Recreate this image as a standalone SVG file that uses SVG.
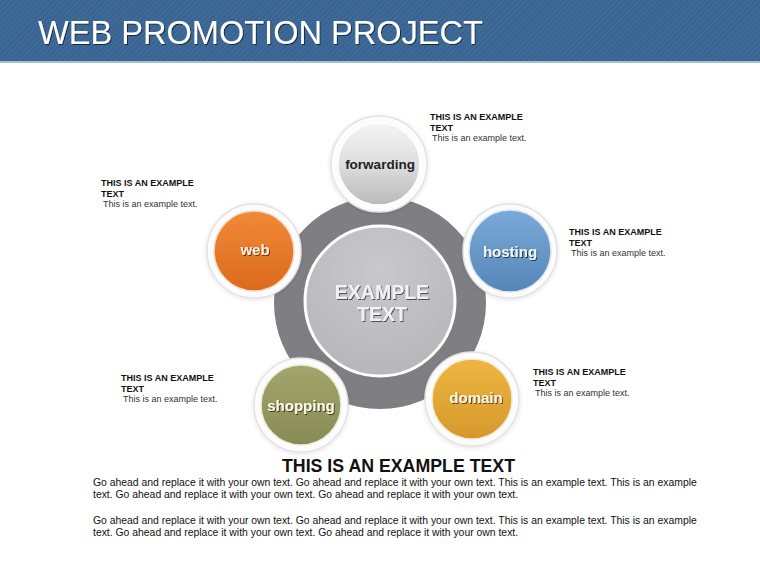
<svg xmlns="http://www.w3.org/2000/svg" width="760" height="570" viewBox="0 0 760 570">
<defs>
<pattern id="stripes" width="4" height="4" patternUnits="userSpaceOnUse" patternTransform="rotate(45)">
<rect width="4" height="4" fill="#3a6592"/>
<rect width="1" height="4" fill="#436e9b"/>
</pattern>
<radialGradient id="gInner" cx="0.5" cy="0.3" r="0.7">
<stop offset="0" stop-color="#c9c8cd"/>
<stop offset="1" stop-color="#b7b6bb"/>
</radialGradient>
<linearGradient id="gFwd" x1="0" y1="0" x2="0" y2="1">
<stop offset="0" stop-color="#f4f4f4"/>
<stop offset="0.5" stop-color="#dedede"/>
<stop offset="1" stop-color="#b9b9b9"/>
</linearGradient>
<linearGradient id="gWeb" x1="0" y1="0" x2="0" y2="1">
<stop offset="0" stop-color="#f08a38"/>
<stop offset="1" stop-color="#dc6a1c"/>
</linearGradient>
<linearGradient id="gHost" x1="0" y1="0" x2="0" y2="1">
<stop offset="0" stop-color="#7aaad8"/>
<stop offset="1" stop-color="#5586b8"/>
</linearGradient>
<linearGradient id="gShop" x1="0" y1="0" x2="0" y2="1">
<stop offset="0" stop-color="#a3a66b"/>
<stop offset="1" stop-color="#878a55"/>
</linearGradient>
<linearGradient id="gDom" x1="0" y1="0" x2="0" y2="1">
<stop offset="0" stop-color="#eeb642"/>
<stop offset="1" stop-color="#d6982c"/>
</linearGradient>
<filter id="tshadow" x="-10%" y="-20%" width="130%" height="160%">
<feDropShadow dx="1" dy="1" stdDeviation="0.6" flood-color="#000" flood-opacity="0.6"/>
</filter>
<filter id="halo" x="-30%" y="-30%" width="160%" height="160%">
<feDropShadow dx="0" dy="1" stdDeviation="2" flood-color="#000" flood-opacity="0.12"/>
</filter>
</defs>
<style>
.hd{font-family:"Liberation Sans",Arial,sans-serif;font-weight:bold;font-size:9px;fill:#111}
.bd{font-family:"Liberation Sans",Arial,sans-serif;font-size:9px;fill:#333}
.lbl{font-family:"Liberation Sans",Arial,sans-serif;font-weight:bold;font-size:15px;text-anchor:middle}
.halo{fill:#fcfcfc;stroke:#e2e2e2;stroke-width:1.5}
.body{font-family:"Liberation Sans",Arial,sans-serif;font-size:10.4px;fill:#111}
</style>
<rect width="760" height="570" fill="#fff"/>
<g id="header">
<rect x="0" y="0" width="760" height="61" fill="url(#stripes)"/>
<rect x="0" y="61" width="760" height="2" fill="#a9bdd3"/>
<text x="38" y="44" font-family="'Liberation Sans',Arial,sans-serif" font-size="34" fill="#fff" filter="url(#tshadow)" textLength="445" lengthAdjust="spacingAndGlyphs">WEB PROMOTION PROJECT</text>
</g>
<g id="center">
<circle cx="380" cy="303" r="106" fill="#7f7e83"/>
<circle cx="380" cy="301" r="75" fill="url(#gInner)" stroke="#fff" stroke-width="3"/>
<text x="382" y="299" class="lbl" style="font-size:19.5px;fill:#f2f2f2" filter="url(#tshadow)">EXAMPLE</text>
<text x="382" y="321" class="lbl" style="font-size:19.5px;fill:#f2f2f2" filter="url(#tshadow)">TEXT</text>
</g>
<g id="forwarding">
<circle cx="379" cy="164" r="48" class="halo" filter="url(#halo)"/>
<circle cx="379" cy="164" r="41" fill="url(#gFwd)" stroke="#fff" stroke-width="1.5"/>
<text x="380" y="169" class="lbl" style="font-size:13.5px;fill:#222">forwarding</text>
</g>
<g id="web">
<circle cx="254" cy="251" r="47" class="halo" filter="url(#halo)"/>
<circle cx="254" cy="251" r="40" fill="url(#gWeb)" stroke="#f4dcc8" stroke-width="1.5"/>
<text x="255" y="255" class="lbl" style="fill:#fdf0dc" filter="url(#tshadow)">web</text>
</g>
<g id="hosting">
<circle cx="510" cy="251" r="47" class="halo" filter="url(#halo)"/>
<circle cx="510" cy="251" r="41" fill="url(#gHost)" stroke="#dfe8f2" stroke-width="1.5"/>
<text x="510" y="257" class="lbl" style="fill:#f0f4f8" filter="url(#tshadow)">hosting</text>
</g>
<g id="shopping">
<circle cx="301" cy="405" r="47" class="halo" filter="url(#halo)"/>
<circle cx="301" cy="405" r="40" fill="url(#gShop)" stroke="#ecebd8" stroke-width="1.5"/>
<text x="301" y="411" class="lbl" style="fill:#fbf9e6" filter="url(#tshadow)">shopping</text>
</g>
<g id="domain">
<circle cx="472" cy="399" r="47" class="halo" filter="url(#halo)"/>
<circle cx="472" cy="399" r="40" fill="url(#gDom)" stroke="#f5e9cf" stroke-width="1.5"/>
<text x="476" y="403" class="lbl" style="fill:#fdf5e4" filter="url(#tshadow)">domain</text>
</g>
<g id="note-forwarding">
<text x="430" y="120" class="hd">THIS IS AN EXAMPLE</text>
<text x="430" y="131" class="hd">TEXT</text>
<text x="432" y="141" class="bd">This is an example text.</text>
</g>
<g id="note-web">
<text x="101" y="186" class="hd">THIS IS AN EXAMPLE</text>
<text x="101" y="197" class="hd">TEXT</text>
<text x="103" y="207" class="bd">This is an example text.</text>
</g>
<g id="note-hosting">
<text x="569" y="235" class="hd">THIS IS AN EXAMPLE</text>
<text x="569" y="246" class="hd">TEXT</text>
<text x="571" y="256" class="bd">This is an example text.</text>
</g>
<g id="note-shopping">
<text x="121" y="381" class="hd">THIS IS AN EXAMPLE</text>
<text x="121" y="392" class="hd">TEXT</text>
<text x="123" y="402" class="bd">This is an example text.</text>
</g>
<g id="note-domain">
<text x="533" y="375" class="hd">THIS IS AN EXAMPLE</text>
<text x="533" y="386" class="hd">TEXT</text>
<text x="535" y="396" class="bd">This is an example text.</text>
</g>
<g id="connectors"></g>
<g id="footer">
<text x="282" y="472" font-family="'Liberation Sans',Arial,sans-serif" font-weight="bold" font-size="18" fill="#111" textLength="233" lengthAdjust="spacingAndGlyphs">THIS IS AN EXAMPLE TEXT</text>
<text x="93" y="486" class="body">Go ahead and replace it with your own text. Go ahead and replace it with your own text. This is an example text. This is an example</text>
<text x="93" y="498" class="body">text. Go ahead and replace it with your own text. Go ahead and replace it with your own text.</text>
<text x="93" y="524" class="body">Go ahead and replace it with your own text. Go ahead and replace it with your own text. This is an example text. This is an example</text>
<text x="93" y="536" class="body">text. Go ahead and replace it with your own text. Go ahead and replace it with your own text.</text>
</g>
</svg>
